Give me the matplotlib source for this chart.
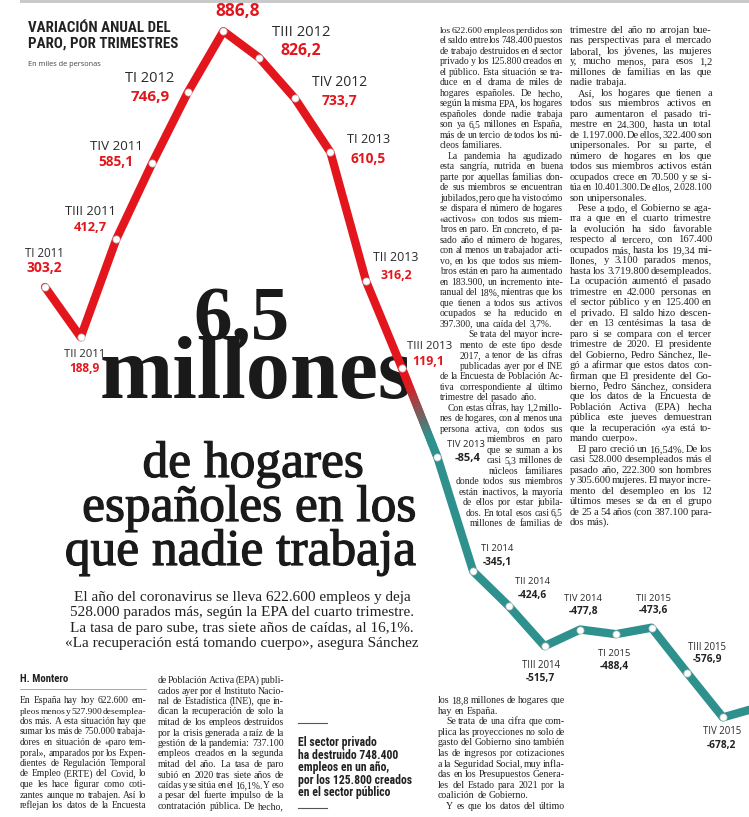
import os
import matplotlib
matplotlib.use("Agg")
import matplotlib.pyplot as plt
from matplotlib import font_manager
from matplotlib.font_manager import FontProperties
from matplotlib.collections import LineCollection
from matplotlib.patches import Rectangle
import matplotlib.patheffects as pe
import numpy as np

# Data: variación anual del paro (miles de personas)
quarters = ["TI 2011", "TII 2011", "TIII 2011", "TIV 2011",
            "TI 2012", "TII 2012", "TIII 2012", "TIV 2012",
            "TI 2013", "TII 2013", "TIII 2013", "TIV 2013",
            "TI 2014", "TII 2014", "TIII 2014", "TIV 2014",
            "TI 2015", "TII 2015", "TIII 2015", "TIV 2015", "TI 2016"]
values = [303.2, 188.9, 412.7, 585.1,
          746.9, 886.8, 826.2, 733.7,
          610.5, 316.2, 119.1, -85.4,
          -345.1, -424.6, -515.7, -477.8,
          -488.4, -473.6, -576.9, -678.2, -655.0]

# label layout: (label dx, label dy, value dx, value dy) in pixels from the point
label_offsets = [(-1, 34, -1, 19), (4, -17, 4, -31), (-26, 28, -26, 12), (-36, 17, -36, 1),
                 (-38, 14, -38, -5), (14, 38, 14, 20), (42, 25, 42, 7), (45, 16, 45, -3),
                 (38, 13, 38, -7), (30, 24, 30, 6), (28, 21, 27, 6), (28, 13, 30, -1),
                 (24, 23, 24, 9), (24, 25, 24, 11), (-4, -19, -4, -32), (3, 31, 3, 18),
                 (-2, -19, -2, -32), (2, 29, 2, 17), (20, 25, 20, 13), (-1, -14, -1, -28)]
label_sizes = [8.3, 8.1, 9.3, 9.6, 10.5, 10.5, 10.6, 10, 9.2, 8.9, 8.2, 6.8,
               6.8, 6.8, 6.9, 6.8, 6.8, 6.8, 6.9, 6.9]
value_sizes = [10, 8.6, 9.3, 9.8, 11, 12.5, 11.4, 10, 9.8, 8.8, 9, 8,
               7.3, 7.3, 7.3, 7.4, 7.3, 7.3, 7.3, 7.3]

subtitle = ["El año del coronavirus se lleva 622.600 empleos y deja",
            "528.000 parados más, según la EPA del cuarto trimestre.",
            "La tasa de paro sube, tras siete años de caídas, al 16,1%.",
            "«La recuperación está tomando cuerpo», asegura Sánchez"]

callout = ["El sector privado", "ha destruido 748.400", "empleos en un año,",
           "por los 125.800 creados", "en el sector público"]

# body text: ">" = indented first line, "|" = last line of paragraph
col2 = ["los 622.600 empleos perdidos son",
        "el saldo entre los 748.400 puestos",
        "de trabajo destruidos en el sector",
        "privado y los 125.800 creados en",
        "el público. Esta situación se tra-",
        "duce en el drama de miles de",
        "hogares españoles. De hecho,",
        "según la misma EPA, los hogares",
        "españoles donde nadie trabaja",
        "son ya 6,5 millones en España,",
        "más de un tercio de todos los nú-",
        "cleos familiares.|",
        ">La pandemia ha agudizado",
        "esta sangría, nutrida en buena",
        "parte por aquellas familias don-",
        "de sus miembros se encuentran",
        "jubilados, pero que ha visto cómo",
        "se dispara el número de hogares",
        "«activos» con todos sus miem-",
        "bros en paro. En concreto, el pa-",
        "sado año el número de hogares,",
        "con al menos un trabajador acti-",
        "vo, en los que todos sus miem-",
        "bros están en paro ha aumentado",
        "en 183.900, un incremento inte-",
        "ranual del 18%, mientras que los",
        "que tienen a todos sus activos",
        "ocupados se ha reducido en",
        "397.300, una caída del 3,7%.|",
        "Se trata del mayor incre-",
        "mento de este tipo desde",
        "2017, a tenor de las cifras",
        "publicadas ayer por el INE",
        "de la Encuesta de Población Ac-",
        "tiva correspondiente al último",
        "trimestre del pasado año.|",
        ">Con estas cifras, hay 1,2 millo-",
        "nes de hogares, con al menos una",
        "persona activa, con todos sus",
        "miembros en paro",
        "que se suman a los",
        "casi 5,3 millones de",
        "núcleos familiares",
        "donde todos sus miembros",
        "están inactivos, la mayoría",
        "de ellos por estar jubila-",
        "dos. En total esos casi 6,5",
        "millones de familias de"]
col2_lefts = {29: 468, 30: 460, 31: 460, 32: 460, 39: 487, 40: 487, 41: 487,
              42: 489, 43: 456, 44: 459, 45: 463, 46: 466, 47: 470}

col3 = ["trimestre del año no arrojan bue-",
        "nas perspectivas para el mercado",
        "laboral, los jóvenes, las mujeres",
        "y, mucho menos, para esos 1,2",
        "millones de familias en las que",
        "nadie trabaja.|",
        ">Así, los hogares que tienen a",
        "todos sus miembros activos en",
        "paro aumentaron el pasado tri-",
        "mestre en 24.300, hasta un total",
        "de 1.197.000. De ellos, 322.400 son",
        "unipersonales. Por su parte, el",
        "número de hogares en los que",
        "todos sus miembros activos están",
        "ocupados crece en 70.500 y se si-",
        "túa en 10.401.300. De ellos, 2.028.100",
        "son unipersonales.|",
        ">Pese a todo, el Gobierno se aga-",
        "rra a que en el cuarto trimestre",
        "la evolución ha sido favorable",
        "respecto al tercero, con 167.400",
        "ocupados más, hasta los 19,34 mi-",
        "llones, y 3.100 parados menos,",
        "hasta los 3.719.800 desempleados.",
        "La ocupación aumentó el pasado",
        "trimestre en 42.000 personas en",
        "el sector público y en 125.400 en",
        "el privado. El saldo hizo descen-",
        "der en 13 centésimas la tasa de",
        "paro si se compara con el tercer",
        "trimestre de 2020. El presidente",
        "del Gobierno, Pedro Sánchez, lle-",
        "gó a afirmar que estos datos con-",
        "firman que El presidente del Go-",
        "bierno, Pedro Sánchez, considera",
        "que los datos de la Encuesta de",
        "Población Activa (EPA) hecha",
        "pública este jueves demuestran",
        "que la recuperación «ya está to-",
        "mando cuerpo».|",
        ">El paro creció un 16,54%. De los",
        "casi 528.000 desempleados más el",
        "pasado año, 222.300 son hombres",
        "y 305.600 mujeres. El mayor incre-",
        "mento del desempleo en los 12",
        "últimos meses se da en el grupo",
        "de 25 a 54 años (con 387.100 para-",
        "dos más).|"]

bot1 = ["En España hay hoy 622.600 em-",
        "pleos menos y 527.900 desemplea-",
        "dos más. A esta situación hay que",
        "sumar los más de 750.000 trabaja-",
        "dores en situación de «paro tem-",
        "poral», amparados por los Expen-",
        "dientes de Regulación Temporal",
        "de Empleo (ERTE) del Covid, lo",
        "que les hace figurar como coti-",
        "zantes aunque no trabajen. Así lo",
        "reflejan los datos de la Encuesta"]

bot2 = ["de Población Activa (EPA) publi-",
        "cados ayer por el Instituto Nacio-",
        "nal de Estadística (INE), que in-",
        "dican la recuperación de solo la",
        "mitad de los empleos destruidos",
        "por la crisis generada a raíz de la",
        "gestión de la pandemia: 737.100",
        "empleos creados en la segunda",
        "mitad del año. La tasa de paro",
        "subió en 2020 tras siete años de",
        "caídas y se sitúa en el 16,1%. Y eso",
        "a pesar del fuerte impulso de la",
        "contratación pública. De hecho,"]

bot3 = ["los 18,8 millones de hogares que",
        "hay en España.|",
        ">Se trata de una cifra que com-",
        "plica las proyecciones no solo de",
        "gasto del Gobierno sino también",
        "las de ingresos por cotizaciones",
        "a la Seguridad Social, muy infla-",
        "das en los Presupuestos Genera-",
        "les del Estado para 2021 por la",
        "coalición de Gobierno.|",
        ">Y es que los datos del último"]

RED = "#e3161d"
TEAL = "#2f918e"
INK = "#222222"
BODY = "#222222"
W, H = 749, 817
# pixel calibration of the chart
X0, DX = 45, 35.68
Y0, SY = 420, 0.4385

SANS = "Open Sans"
SERIF = "Liberation Serif"

files = [f.fname for f in font_manager.fontManager.ttflist]


def find_file(keys):
    for k in keys:
        for p in files:
            if os.path.basename(p).lower().startswith(k.lower()):
                return p
    return None


# condensed bold sans for the headings, if one is installed
cond = find_file(["LiberationSansNarrow-Bold.", "RobotoCondensed-Bold.",
                  "OpenSansCondensed-Bold.", "OpenSans_Condensed-Bold.",
                  "NotoSans-CondensedBold.", "DejaVuSansCondensed-Bold."])
if cond:
    COND = FontProperties(fname=cond, size=10)
else:
    COND = FontProperties(family="Roboto", weight="bold", size=10)
BODYFONT = FontProperties(family=SERIF, size=7)

fig = plt.figure(figsize=(W / 100, H / 100), dpi=100)
fig.patch.set_facecolor("white")
renderer = fig.canvas.get_renderer()

# text layer in pixel coordinates
tx = fig.add_axes([0, 0, 1, 1])
tx.set_xlim(0, W)
tx.set_ylim(H, 0)
tx.axis("off")

# chart layer in data coordinates
ax = fig.add_axes([0, 0, 1, 1], zorder=2)
ax.set_xlim((0 - X0) / DX, (W - X0) / DX)
ax.set_ylim((Y0 - H) / SY, Y0 / SY)
ax.axis("off")
ax.patch.set_alpha(0)


def tw(s, fp):
    w, h, d = renderer.get_text_width_height_descent(s, fp, ismath=False)
    return w


def fitted(fp, text, target):
    fp = fp.copy()
    fp.set_size(fp.get_size() * target / tw(text, fp))
    return fp


def col_font(fp, lines, width, pct):
    # size so that a share of the full lines fit the column with ordinary spacing
    ws = [tw(s.lstrip(">"), fp) for s in lines if not s.endswith("|")]
    fp = fp.copy()
    fp.set_size(fp.get_size() * width / np.percentile(ws, pct))
    return fp


def put_line(s, x0, x1, y, fp, justify):
    words = s.split()
    widths = [tw(w, fp) for w in words]
    sp = tw("n n", fp) - tw("nn", fp)
    avail = x1 - x0
    if justify and len(words) > 1:
        gap = (avail - sum(widths)) / (len(words) - 1)
        if gap < 0.35 * sp:
            fp = fp.copy()
            fp.set_size(fp.get_size() * (avail - 0.35 * sp * (len(words) - 1)) / sum(widths))
            widths = [tw(w, fp) for w in words]
            gap = (avail - sum(widths)) / (len(words) - 1)
    else:
        gap = sp
    x = x0
    for w, wd in zip(words, widths):
        tx.text(x, y, w, fontproperties=fp, color=BODY, ha="left", va="baseline")
        x += wd + gap


def column(lines, x0, x1, y0, dy, fp, lefts=None, indent=8):
    for i, s in enumerate(lines):
        left = x0
        if lefts and i in lefts:
            left = lefts[i]
        justify = True
        if s.startswith(">"):
            s = s[1:]
            left += indent
        if s.endswith("|"):
            s = s[:-1]
            justify = False
        put_line(s, left, x1, y0 + i * dy, fp, justify)


# top rule
tx.add_patch(Rectangle((20, 0), W - 20, 3, color="#c9c9c9", lw=0))

# chart title
hfp = fitted(COND, "PARO, POR TRIMESTRES", 150)
tx.text(28, 31.5, "VARIACIÓN ANUAL DEL", fontproperties=hfp, color=INK, va="baseline")
tx.text(28, 48, "PARO, POR TRIMESTRES", fontproperties=hfp, color=INK, va="baseline")
tx.text(28, 65.5, "En miles de personas", family=SANS, fontsize=5.3, color="#444444",
        va="baseline")

# line chart
xs = np.arange(len(values))
vals = np.array(values)
k = quarters.index("TIII 2013")
LW = 6.0
ax.plot(xs[:k + 1], vals[:k + 1], color=RED, lw=LW, solid_joinstyle="round",
        solid_capstyle="round", zorder=2)
ax.plot(xs[k + 1:], vals[k + 1:], color=TEAL, lw=LW, solid_joinstyle="round",
        solid_capstyle="round", zorder=2)
t = np.linspace(0, 1, 31)
gx = xs[k] + t * (xs[k + 1] - xs[k])
gy = vals[k] + t * (vals[k + 1] - vals[k])
segs = [[(gx[j], gy[j]), (gx[j + 1], gy[j + 1])] for j in range(len(t) - 1)]
c0 = np.array(matplotlib.colors.to_rgb(RED))
c1 = np.array(matplotlib.colors.to_rgb(TEAL))
cols = [c0 + (c1 - c0) * min(1, max(0, (tm - 0.2) / 0.6)) for tm in (t[:-1] + t[1:]) / 2]
ax.add_collection(LineCollection(segs, colors=cols, linewidths=LW, capstyle="round",
                                 zorder=2))
ax.plot(xs, vals, "o", ms=5.2, mfc="white", mec="#b8b8b8", mew=0.5, zorder=3)

for i, (q, v) in enumerate(zip(quarters[:20], values[:20])):
    ldx, ldy, vdx, vdy = label_offsets[i]
    ax.annotate(q, xy=(i, v), xytext=(ldx, ldy), textcoords="offset pixels",
                ha="center", va="center", fontsize=label_sizes[i], family=SANS,
                color="#2a2a2a", annotation_clip=False)
    ax.annotate(f"{v:.1f}".replace(".", ","), xy=(i, v), xytext=(vdx, vdy),
                textcoords="offset pixels", ha="center", va="center",
                fontsize=value_sizes[i], family=SANS, weight="bold",
                color=RED if v > 0 else INK, annotation_clip=False)

# headline
big = FontProperties(family=SERIF, weight="bold", size=20)
tx.text(241, 339, "6,5", fontproperties=fitted(big, "6,5", 96), color="#1a1a1a",
        ha="center", va="baseline")
tx.text(256, 398, "millones", fontproperties=fitted(big, "millones", 313),
        color="#1a1a1a", ha="center", va="baseline")
mid = fitted(FontProperties(family=SERIF, size=20), "españoles en los", 334)
thick = [pe.withStroke(linewidth=0.9, foreground="#1a1a1a")]
for s, x, y in [("de hogares", 253, 477), ("españoles en los", 249, 521),
                ("que nadie trabaja", 240, 565)]:
    tx.text(x, y, s, fontproperties=mid, color="#1a1a1a", ha="center",
            va="baseline", path_effects=thick)

# subtitle
sub = fitted(FontProperties(family=SERIF, size=10), subtitle[3], 352)
for i, s in enumerate(subtitle):
    tx.text(242, 601 + i * 15.3, s, fontproperties=sub, color=INK,
            ha="center", va="baseline")

# byline
tx.text(20, 682, "H. Montero", fontproperties=fitted(COND, "H. Montero", 48),
        color=INK, va="baseline")
tx.plot([20, 146], [689, 689], color="#9a9a9a", lw=0.6)

# body columns
column(col2, 440, 563, 33, 10.49, col_font(BODYFONT, col2[:29], 123, 45),
       lefts=col2_lefts)
column(col3, 570, 712, 33, 10.47, col_font(BODYFONT, col3, 142, 75))
column(bot1, 20, 146, 703, 10.5, col_font(BODYFONT, bot1, 126, 45))
column(bot2, 158, 284, 683, 10.5, col_font(BODYFONT, bot2, 126, 45))
column(bot3, 438, 565, 703, 10.6, col_font(BODYFONT, bot3, 127, 45))

# callout
cfp = fitted(COND, callout[3], 115)
for i, s in enumerate(callout):
    tx.text(298, 746 + i * 12.6, s, fontproperties=cfp, color=INK, va="baseline")
tx.plot([298, 327], [723, 723], color="#555555", lw=0.8)
tx.plot([298, 327], [808, 808], color="#555555", lw=0.8)

fig.savefig("out.png", dpi=100, facecolor="white")
